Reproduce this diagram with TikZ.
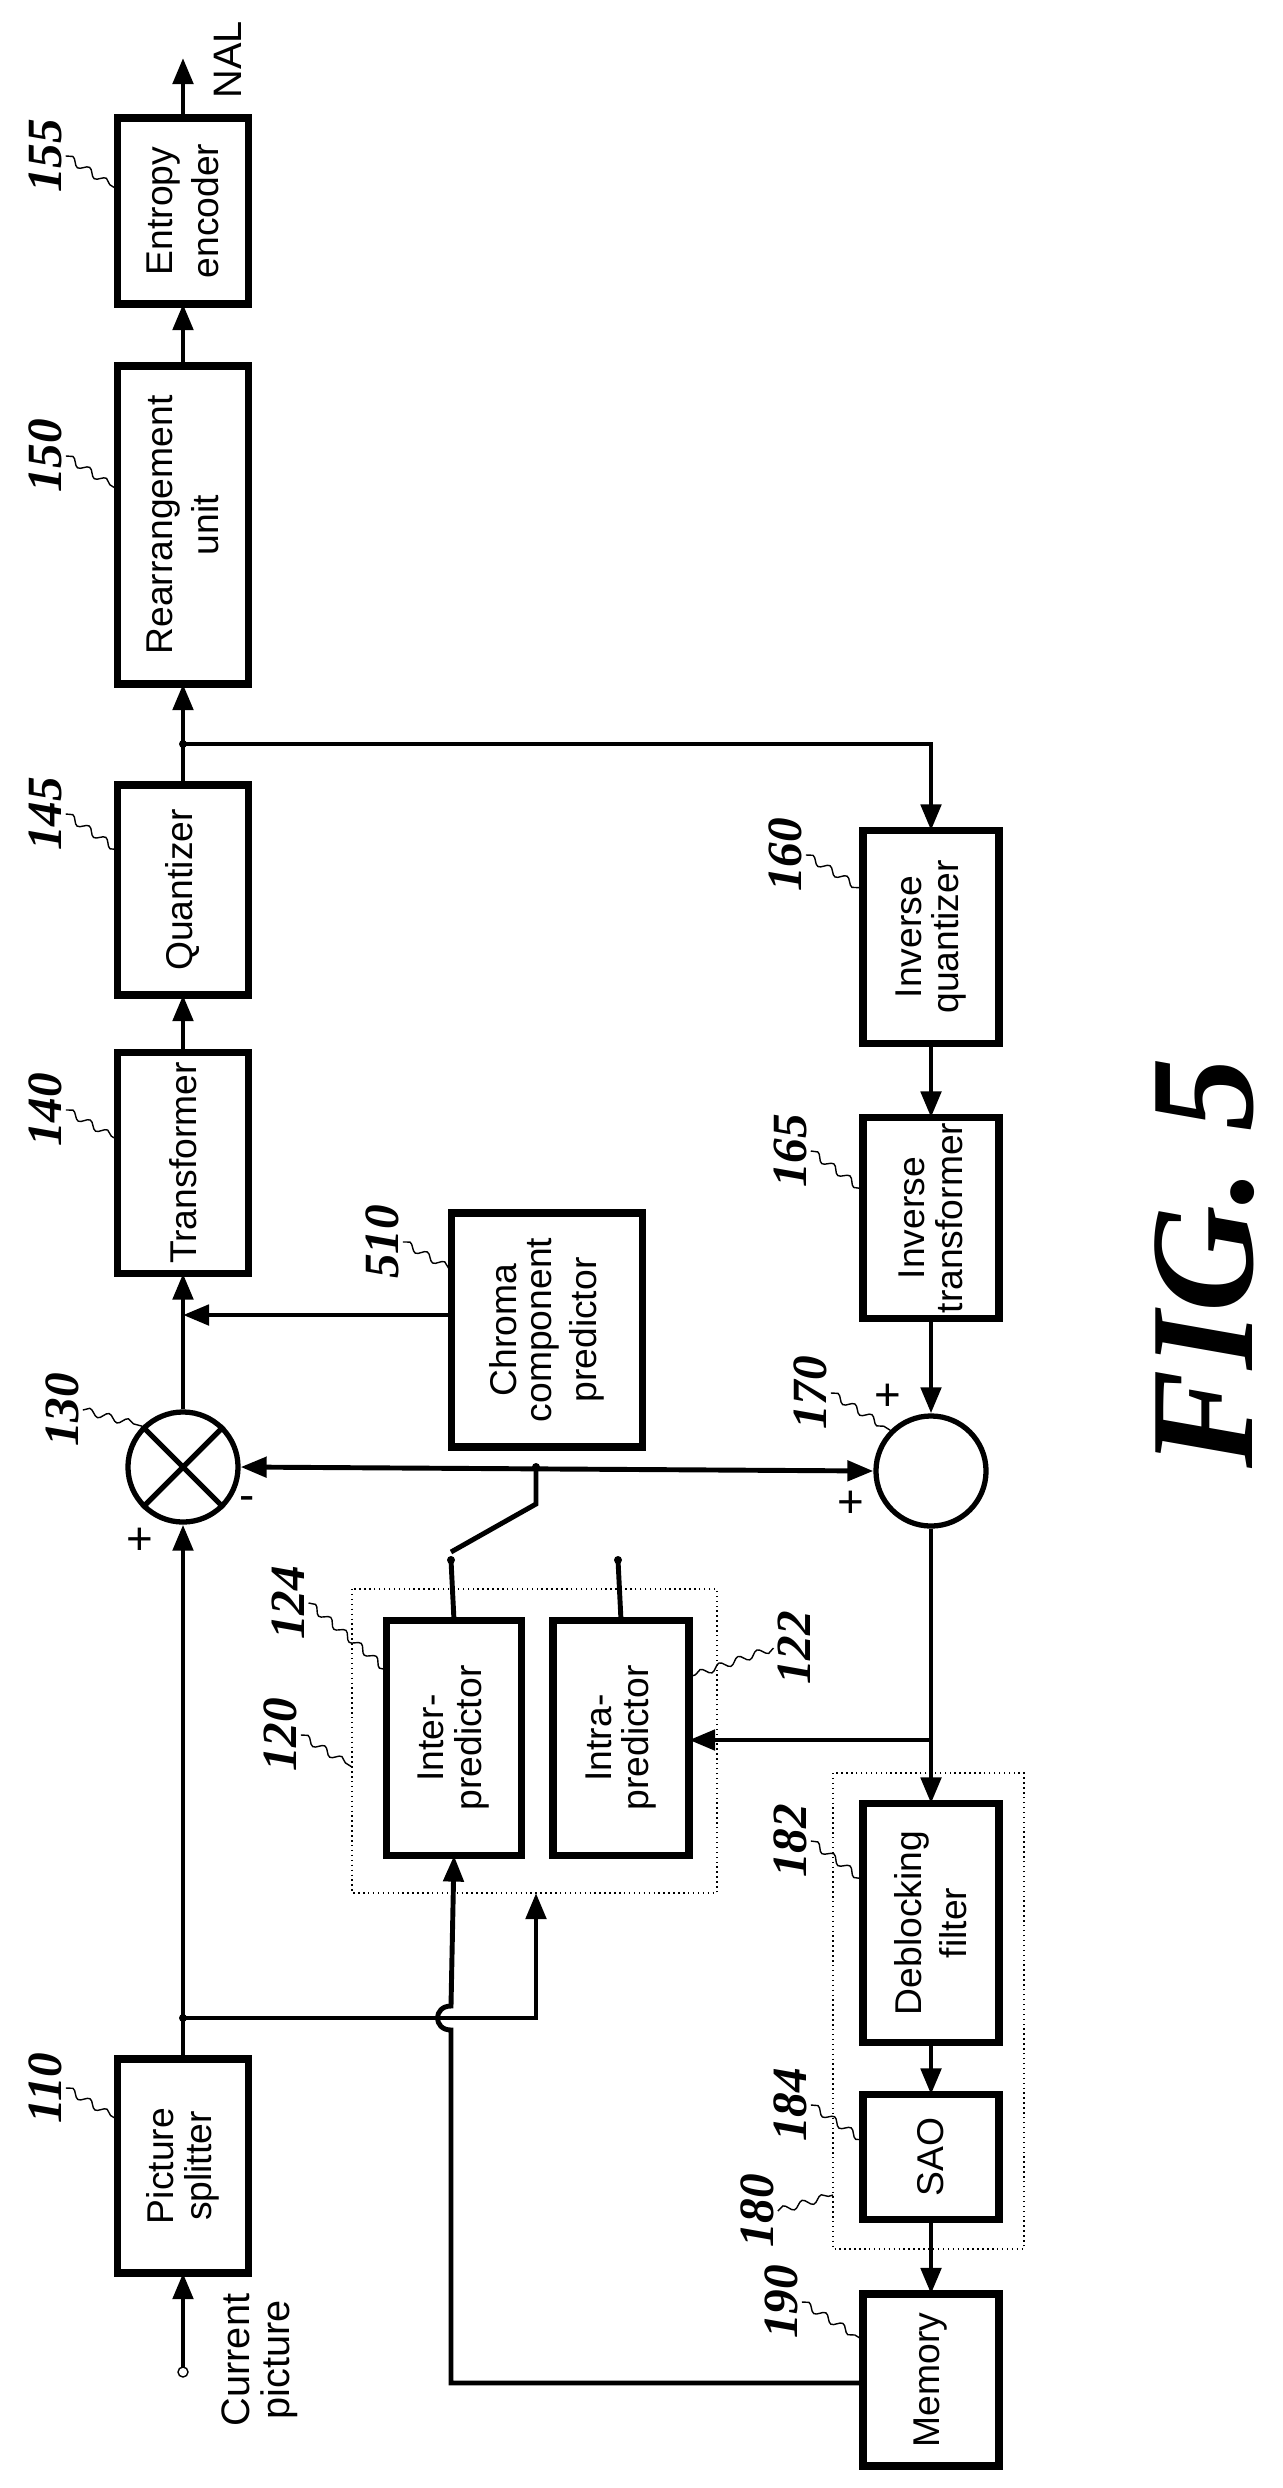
\documentclass[tikz,border=0pt]{standalone}
\usepackage{fontspec}
\setmainfont{Liberation Sans}
\newfontfamily\numfont{Liberation Serif}
\usetikzlibrary{arrows.meta,decorations.pathmorphing}
\tikzset{
  blk/.style={draw, line width=2.2pt, inner sep=0pt, outer sep=0pt, align=center, font=\fontsize{10.6}{12.5}\selectfont},
  grp/.style={draw, densely dotted, thin},
  sum/.style={draw, line width=1.5pt, circle, minimum size=1.1cm, inner sep=0pt},
  num/.style={rotate=90, font=\numfont\bfseries\itshape\fontsize{14}{14}\selectfont, inner sep=1pt},
  sgn/.style={font=\fontsize{13}{13}\selectfont},
  leader/.style={thin, decorate, decoration={snake, amplitude=.35mm, segment length=2mm}},
  wire/.style={line width=1.4pt},
  >={Triangle[length=2.6mm,width=2mm]}
}
\newcommand{\rt}[1]{\rotatebox{90}{\shortstack{#1}}}

\begin{document}
\begin{tikzpicture}[x=0.01cm, y=-0.01cm]
  \useasboundingbox (0,0) rectangle (1283,2488);

  % main column
  \node[blk, minimum width=1.31cm, minimum height=1.86cm] (ent) at (183,211) {\rt{Entropy\\encoder}};
  \node[blk, minimum width=1.31cm, minimum height=3.18cm] (rear) at (183,525) {\rt{Rearrangement\\unit}};
  \node[blk, minimum width=1.31cm, minimum height=2.10cm] (quant) at (183,890) {\rt{Quantizer}};
  \node[blk, minimum width=1.31cm, minimum height=2.21cm] (trans) at (183,1163) {\rt{Transformer}};
  \node[sum] (sub) at (183,1467) {};
  \draw[line width=1.5pt] (sub.45) -- (sub.225) (sub.135) -- (sub.315);
  \node[blk, minimum width=1.31cm, minimum height=2.14cm] (split) at (183,2166) {\rt{Picture\\splitter}};

  % reconstruction column
  \node[blk, minimum width=1.36cm, minimum height=2.13cm] (iquant) at (931,937) {\rt{Inverse\\quantizer}};
  \node[blk, minimum width=1.36cm, minimum height=2.01cm] (itrans) at (931,1218) {\rt{Inverse\\transformer}};
  \node[sum] (add) at (931,1471) {};
  \node[blk, minimum width=1.36cm, minimum height=2.39cm] (deblk) at (931,1923) {\rt{Deblocking\\filter}};
  \node[blk, minimum width=1.36cm, minimum height=1.25cm] (sao) at (931,2157) {\rt{SAO}};
  \node[blk, minimum width=1.36cm, minimum height=1.72cm] (mem) at (931,2380) {\rt{Memory}};
  \draw[grp] (833,1773) rectangle (1024,2249);

  % prediction
  \node[blk, minimum width=1.91cm, minimum height=2.34cm] (chroma) at (547,1330) {\rt{Chroma\\component\\predictor}};
  \draw[grp] (352,1589) rectangle (717,1893);
  \node[blk, minimum width=1.35cm, minimum height=2.35cm] (inter) at (454,1738) {\rt{Inter-\\predictor}};
  \node[blk, minimum width=1.36cm, minimum height=2.35cm] (intra) at (621,1738) {\rt{Intra-\\predictor}};

  % coordinates
  \coordinate (cin) at (183,2372);
  \coordinate (nal) at (183,58);
  \coordinate (qsplit) at (183,744);
  \coordinate (psplit) at (183,2018);
  \coordinate (sw) at (536,1467);
  \coordinate (swA) at (451,1560);
  \coordinate (swB) at (618,1560);
  \coordinate (rtap) at (931,1740);

  % forward path
  \draw[wire,->] (cin) -- (split.south);
  \draw[fill=white] (cin) circle (5);
  \draw[wire,->] (split.north) -- (sub.south);
  \draw[wire,->] (sub.north) -- (trans.south);
  \draw[wire,->] (trans.north) -- (quant.south);
  \draw[wire,->] (quant.north) -- (rear.south);
  \draw[wire,->] (rear.north) -- (ent.south);
  \draw[wire,->] (ent.north) -- (nal);
  \draw[wire,->] (chroma.west |- 0,1315) -- (183,1315);
  \fill (qsplit) circle (4) (psplit) circle (4);

  % reconstruction path
  \draw[wire,->] (qsplit) -| (iquant.north);
  \draw[wire,->] (iquant.south) -- (itrans.north);
  \draw[wire,->] (itrans.south) -- (add.north);
  \draw[wire,->] (add.south) -- (deblk.north);
  \draw[wire,->] (deblk.south) -- (sao.north);
  \draw[wire,->] (sao.south) -- (mem.north);
  \draw[wire,->] (rtap) -- (intra.east |- rtap);

  % prediction switch
  \draw[wire,<->] (sub.east) -- (add.west);
  \fill (sw) circle (4);
  \draw[wire] (sw) -- (536,1504) -- (451,1552);
  \fill (swA) circle (4) (swB) circle (4);
  \draw[wire] (swA) -- (inter.north);
  \draw[wire] (swB) -- (intra.north);

  % inputs to predictors
  \draw[wire,->] (psplit) -- (536,2018) -- (536,1893);
  \draw[wire,->] (mem.west |- 0,2383) -- (451,2383) -- (451,2030)
     .. controls (433,2030) and (433,2006) .. (451,2006) -- (inter.south);

  % signs
  \node[sgn] at (140,1541) {+};
  \node[sgn] at (247,1504) {-};
  \node[sgn] at (888,1397) {+};
  \node[sgn] at (851,1504) {+};
  \node[rotate=90, font=\fontsize{11.3}{13}\selectfont] (nalt) at (228,60) {NAL};
  \node[rotate=90, font=\fontsize{11.3}{13}\selectfont] (cpt) at (260,2360) {\shortstack{Current\\picture}};

  % reference numerals
  \node[num] (l155) at (45,156) {155};
  \node[num] (l150) at (45,456) {150};
  \node[num] (l145) at (45,814) {145};
  \node[num] (l140) at (45,1110) {140};
  \node[num] (l110) at (45,2088) {110};
  \node[num] (l510) at (382,1242) {510};
  \node[num] (l130) at (62,1410) {130};
  \node[num] (l124) at (288,1603) {124};
  \node[num] (l120) at (280,1735) {120};
  \node[num] (l122) at (794,1648) {122};
  \node[num] (l160) at (785,855) {160};
  \node[num] (l165) at (790,1151) {165};
  \node[num] (l170) at (810,1393) {170};
  \node[num] (l182) at (790,1841) {182};
  \node[num] (l184) at (790,2105) {184};
  \node[num] (l180) at (757,2211) {180};
  \node[num] (l190) at (781,2302) {190};

  \draw[leader] (l155.south) -- (118,190);
  \draw[leader] (l150.south) -- (118,490);
  \draw[leader] (l145.south) -- (118,850);
  \draw[leader] (l140.south) -- (118,1140);
  \draw[leader] (l110.south) -- (118,2120);
  \draw[leader] (l510.south) -- (452,1270);
  \draw[leader] (l130.south) -- (sub.135);
  \draw[leader] (l124.south) -- (387,1670);
  \draw[leader] (l120.south) -- (352,1767);
  \draw[leader] (l122.north) -- (689,1677);
  \draw[leader] (l160.south) -- (863,890);
  \draw[leader] (l165.south) -- (863,1190);
  \draw[leader] (l170.south) -- (add.135);
  \draw[leader] (l182.south) -- (863,1880);
  \draw[leader] (l184.south) -- (863,2140);
  \draw[leader] (l180.south) -- (833,2195);
  \draw[leader] (l190.south) -- (863,2340);

  \node[rotate=90, font=\numfont\bfseries\itshape\fontsize{42}{42}\selectfont] (fig) at (1205,1263) {FIG. 5};
\end{tikzpicture}
\end{document}
